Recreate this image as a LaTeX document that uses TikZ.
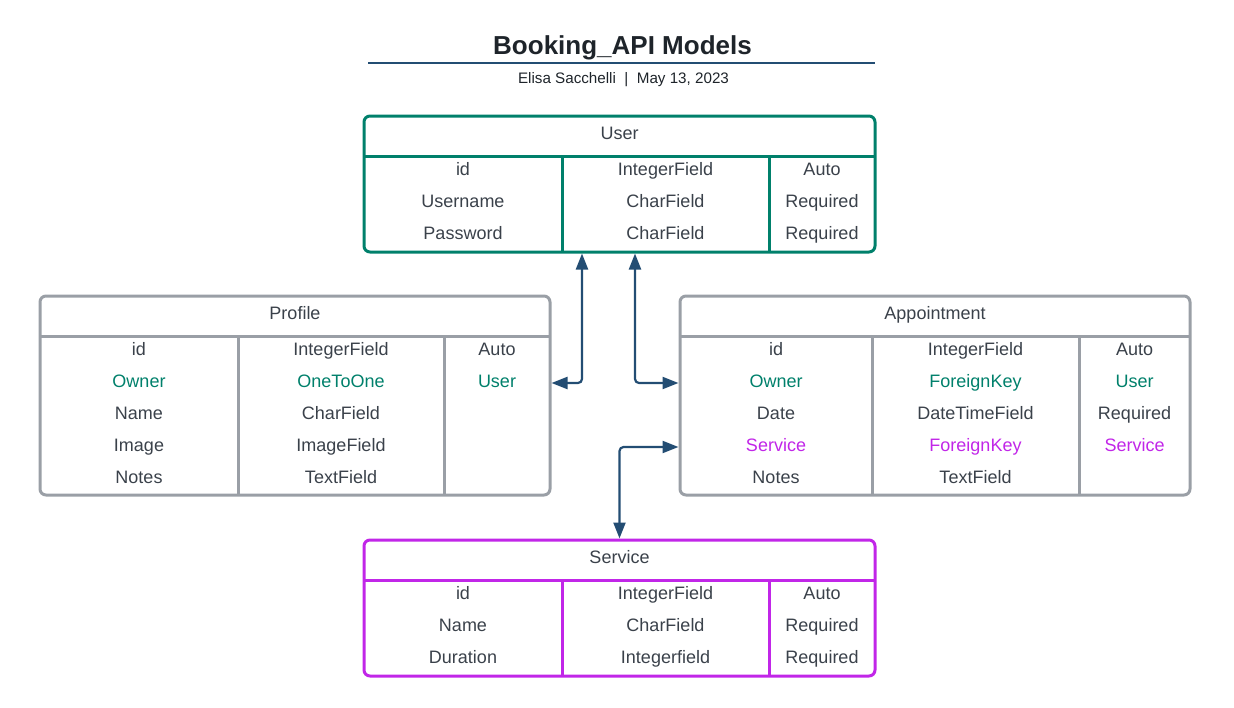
\documentclass[tikz,border=0pt]{standalone}
\usepackage{fontspec}
\setmainfont{Liberation Sans}
\usetikzlibrary{arrows.meta, positioning, calc}

\definecolor{usergreen}{RGB}{0,128,107}
\definecolor{boxgray}{RGB}{154,159,166}
\definecolor{servpurple}{RGB}{193,38,232}
\definecolor{txtgray}{RGB}{58,65,74}
\definecolor{linkblue}{RGB}{35,77,115}
\definecolor{titleink}{RGB}{30,36,42}

\tikzset{
  tblbox/.style={draw=#1, line width=3pt, rounded corners=6pt, inner sep=0pt},
  tblline/.style={draw=#1, line width=3pt},
  fld/.style={text=txtgray, font=\fontsize{18}{21}\selectfont, inner sep=0pt,
    text height=12.8pt, text depth=0pt},
  link/.style={draw=linkblue, line width=2.2pt, rounded corners=4pt,
    {Triangle[length=16pt,width=12pt]}-{Triangle[length=16pt,width=12pt]}}
}

\begin{document}
\begin{tikzpicture}[x=1pt, y=-1pt]
\useasboundingbox (0,0) rectangle (1234,707);

% title
\node[text=titleink, font=\fontsize{26}{30}\selectfont\bfseries, inner sep=0pt,
  text height=18.6pt, text depth=0pt] (title) at (622.5,45) {Booking\_API Models};
\draw[linkblue, line width=2pt] (368,63) -- (875,63);
\node[text=titleink, font=\fontsize{15.2}{18}\selectfont, inner sep=0pt,
  text height=10.9pt, text depth=0pt] (subtitle) at (623.5,78.5)
  {Elisa Sacchelli \ | \ May 13, 2023};

% User
\node[tblbox=usergreen, minimum width=511, minimum height=136] (user) at (619.5,184) {};
\node[fld] (user-head) at (619.5,133.5) {User};
\draw[tblline=usergreen] (364,156) -- (875,156)
  (562,156) -- (562,252) (769,156) -- (769,252);
\foreach \n/\t/\a [count=\i] in {id/IntegerField/Auto,
    Username/CharField/Required, Password/CharField/Required} {
  \node[fld] (user-n\i) at (463,137.5+32*\i) {\n};
  \node[fld] (user-t\i) at (665.5,137.5+32*\i) {\t};
  \node[fld] (user-a\i) at (822,137.5+32*\i) {\a};
}

% Profile
\node[tblbox=boxgray, minimum width=510, minimum height=199] (profile) at (295,395.5) {};
\node[fld] (profile-head) at (295,313.5) {Profile};
\draw[tblline=boxgray] (40,336) -- (550,336)
  (238,336) -- (238,495) (444,336) -- (444,495);
\foreach \n/\t/\a/\c [count=\i] in {id/IntegerField/Auto/txtgray,
    Owner/OneToOne/User/usergreen, Name/CharField//txtgray,
    Image/ImageField//txtgray, Notes/TextField//txtgray} {
  \node[fld, text=\c] (profile-n\i) at (139,317.5+32*\i) {\n};
  \node[fld, text=\c] (profile-t\i) at (341,317.5+32*\i) {\t};
  \node[fld, text=\c] (profile-a\i) at (497,317.5+32*\i) {\a};
}

% Appointment
\node[tblbox=boxgray, minimum width=510, minimum height=199] (appt) at (935,395.5) {};
\node[fld] (appt-head) at (935,313.5) {Appointment};
\draw[tblline=boxgray] (680,336) -- (1190,336)
  (872,336) -- (872,495) (1079,336) -- (1079,495);
\foreach \n/\t/\a/\c [count=\i] in {id/IntegerField/Auto/txtgray,
    Owner/ForeignKey/User/usergreen, Date/DateTimeField/Required/txtgray,
    Service/ForeignKey/Service/servpurple, Notes/TextField//txtgray} {
  \node[fld, text=\c] (appt-n\i) at (776,317.5+32*\i) {\n};
  \node[fld, text=\c] (appt-t\i) at (975.5,317.5+32*\i) {\t};
  \node[fld, text=\c] (appt-a\i) at (1134.5,317.5+32*\i) {\a};
}

% Service
\node[tblbox=servpurple, minimum width=511, minimum height=136] (service) at (619.5,608) {};
\node[fld] (service-head) at (619.5,557.5) {Service};
\draw[tblline=servpurple] (364,580) -- (875,580)
  (562,580) -- (562,676) (769,580) -- (769,676);
\foreach \n/\t/\a [count=\i] in {id/IntegerField/Auto,
    Name/CharField/Required, Duration/Integerfield/Required} {
  \node[fld] (service-n\i) at (463,561.5+32*\i) {\n};
  \node[fld] (service-t\i) at (665.5,561.5+32*\i) {\t};
  \node[fld] (service-a\i) at (822,561.5+32*\i) {\a};
}

% relations
\draw[link] ([xshift=-37.5]user.south) |- ([yshift=12.5]profile.east);
\draw[link] ([xshift=15.5]user.south) |- ([yshift=12.5]appt.west);
\draw[link] ([yshift=-51.5]appt.west) -| (service.north);
\end{tikzpicture}
\end{document}
